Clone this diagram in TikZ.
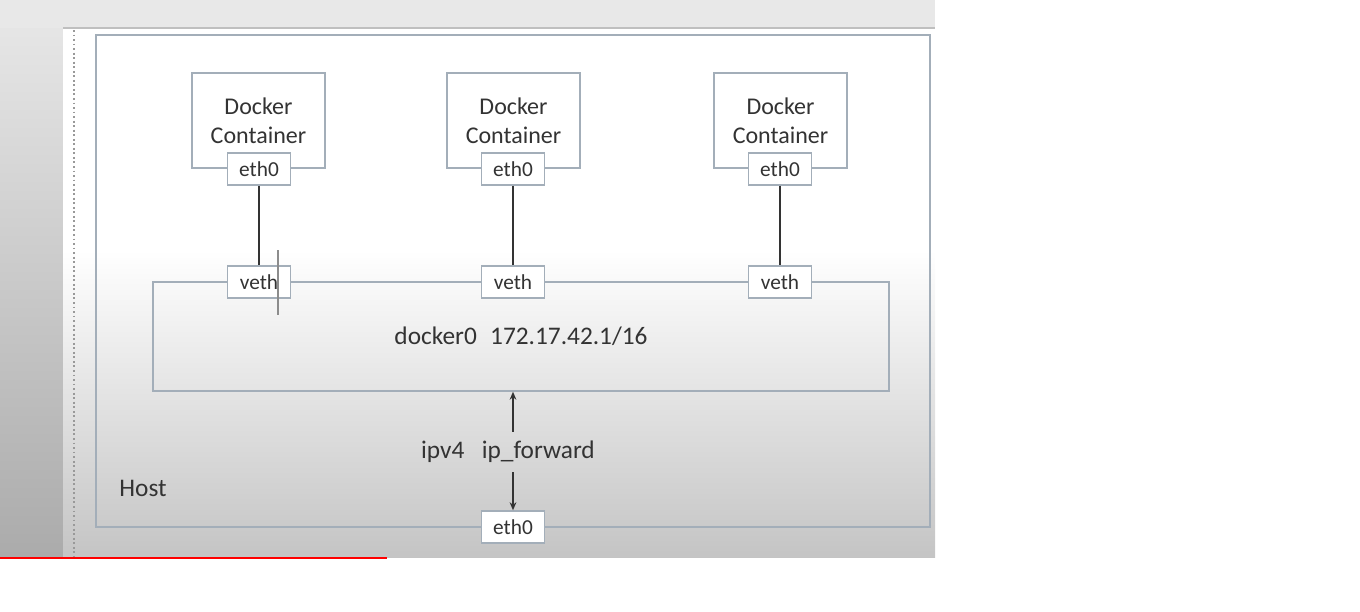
\documentclass[tikz,border=0pt]{standalone}
\usepackage{fontspec}
\setmainfont{Carlito}
\usetikzlibrary{positioning,arrows.meta}

\definecolor{boxline}{HTML}{A3AEB9}
\definecolor{ink}{HTML}{333333}

\tikzset{
  box/.style={draw=boxline, line width=1.1pt, inner sep=0pt, text=ink},
  ctr/.style={box, minimum width=99.75pt, minimum height=71.25pt, align=center,
    font=\fontsize{18}{22}\selectfont},
  port/.style={box, fill=white, minimum width=47.25pt, minimum height=24pt,
    font=\fontsize{16}{18}\selectfont},
  label/.style={text=ink, inner sep=0pt, font=\fontsize{19}{22}\selectfont},
  wire/.style={draw=ink, line width=1.6pt},
  fwdarrow/.style={draw=ink, line width=1.2pt, -{Stealth[length=6pt,width=5pt]}},
}

\begin{document}
\begin{tikzpicture}[x=0.75pt,y=-0.75pt]
\useasboundingbox (0,0) rectangle (1360,611);
% screen around the slide
\fill[black!9] (0,0) rectangle (935,28);
\shade[top color=black!10, bottom color=black!33] (0,28) rectangle (63,557);
\fill[white] (63,28) rectangle (935,250);
\shade[top color=white, bottom color=black!23] (63,250) rectangle (935,557);
\draw[black!25, line width=1pt] (63,28) -- (935,28);
\draw[black!40, line width=1.4pt, dotted] (74,30) -- (74,557);
\draw[red, line width=1.5pt] (0,558) -- (387,558);

% host
\draw[boxline, line width=1.1pt] (96,35) rectangle (930,527);
\node[label] (host) at (143,488) {Host};

% bridge
\node[box, minimum width=552pt, minimum height=81.75pt,
  font=\fontsize{19}{22}\selectfont] (docker0) at (521,336.5)
  {docker0\hspace{10pt}172.17.42.1/16};

% containers
\node[ctr] (c1) at (258.5,120.5) {Docker\\Container};
\node[ctr] (c2) at (513.5,120.5) {Docker\\Container};
\node[ctr] (c3) at (780.5,120.5) {Docker\\Container};

\node[port] (eth1) at (259,169) {eth0};
\node[port] (eth2) at (513,169) {eth0};
\node[port] (eth3) at (780,169) {eth0};

\node[port] (veth1) at (259,282) {veth};
\node[port] (veth2) at (513,282) {veth};
\node[port] (veth3) at (780,282) {veth};

\draw[wire] (eth1) -- (veth1);
\draw[wire] (eth2) -- (veth2);
\draw[wire] (eth3) -- (veth3);
\draw[black!45, line width=0.8pt] (278,250) -- (278,315);

% host side
\node[port] (heth) at (513,527) {eth0};
\node[label, minimum height=30pt] (fwd) at (508,452) {ipv4\hspace{13pt}ip\_forward};

\draw[fwdarrow] (fwd.north -| heth) -- (docker0.south -| heth);
\draw[fwdarrow] (fwd.south -| heth) -- (heth.north);
\end{tikzpicture}
\end{document}
